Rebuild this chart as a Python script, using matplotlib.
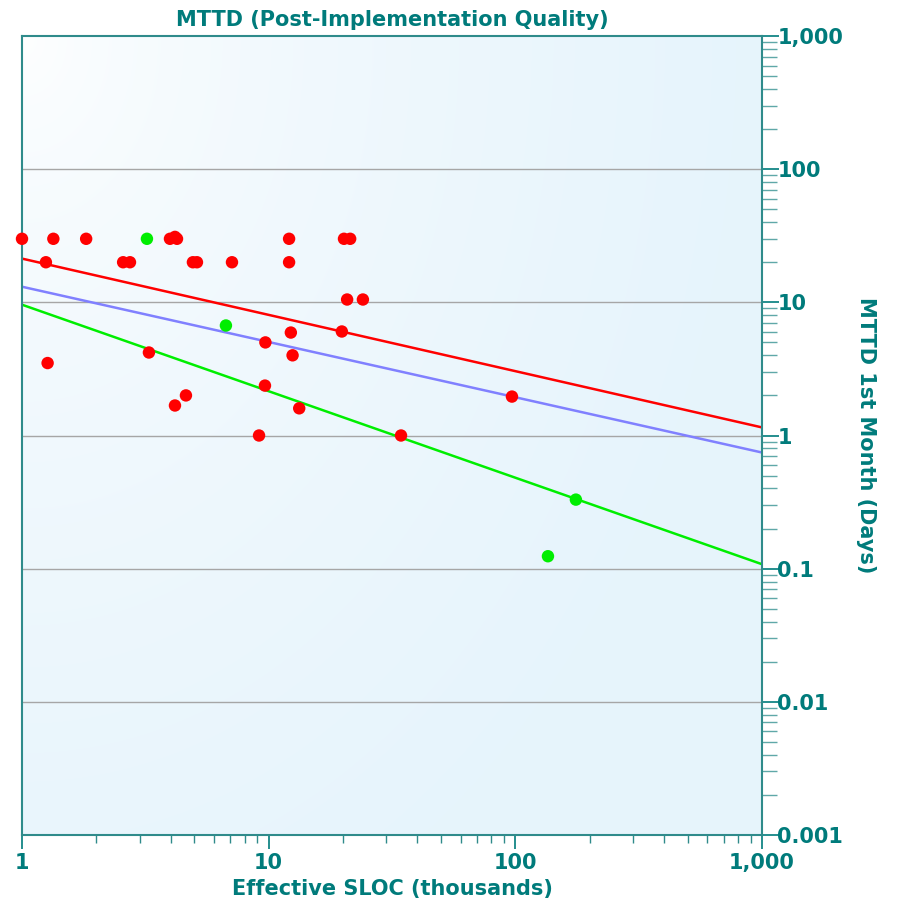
import matplotlib
matplotlib.use("Agg")
import matplotlib.pyplot as plt
import numpy as np
from matplotlib.ticker import FixedLocator, FuncFormatter, LogLocator, NullFormatter

# project size (thousands of effective SLOC) vs MTTD in the first month (days)
red_sloc = [1.0, 1.25, 1.27, 1.34, 1.82, 2.57, 2.74, 3.27, 3.98, 4.17, 4.25,
            4.17, 4.62, 4.93, 5.12, 7.1, 9.14, 9.66, 9.7, 12.1, 12.1, 12.3,
            12.5, 13.3, 19.8, 20.2, 20.8, 21.4, 24.1, 34.4, 96.9]
red_mttd = [30, 20, 3.5, 30, 30, 20, 20, 4.2, 30, 31, 30,
            1.68, 2.0, 20, 20, 20, 1.0, 2.37, 5.0, 30, 20, 5.93,
            4.0, 1.6, 6.04, 30, 10.5, 30, 10.5, 1.0, 1.96]

green_sloc = [3.21, 6.71, 135.6, 176]
green_mttd = [30, 6.7, 0.124, 0.33]

# power-law trend lines, evaluated at the ends of the x range
trend_sloc = [1, 1000]
trend_red = [21.3, 1.15]
trend_all = [13.1, 0.745]
trend_green = [9.6, 0.108]

x_ticks = [1, 10, 100, 1000]
y_ticks = [0.001, 0.01, 0.1, 1, 10, 100, 1000]

teal = "#007b7b"
spine_teal = "#2f8b8b"

fig = plt.figure(figsize=(8.99, 9.0), dpi=100)
ax = fig.add_axes([22 / 899, 1 - 835 / 900, 740 / 899, 799 / 900])

# soft background: white in the top-left corner fading to pale blue
gx, gy = np.meshgrid(np.linspace(0, 1, 200), np.linspace(0, 1, 200))
t = np.clip(np.sqrt((gx * 1.0) ** 2 + (gy * 0.8) ** 2), 0, 1) ** 0.6
c0 = np.array([1.0, 1.0, 1.0])
c1 = np.array([0.902, 0.957, 0.988])
grad = c0 + (c1 - c0) * t[..., None]
# row 0 of the image is the top edge of the axes
ax.imshow(grad, extent=[0, 1, 0, 1], transform=ax.transAxes,
          aspect="auto", zorder=0, interpolation="bilinear")

ax.set_xscale("log")
ax.set_yscale("log")
ax.set_xlim(1, 1000)
ax.set_ylim(0.001, 1000)

for yv in y_ticks[1:-1]:
    ax.axhline(yv, color="#a6a6a6", lw=1.0, zorder=1)

ax.plot(trend_sloc, trend_red, color="#ff0000", lw=1.8, zorder=2)
ax.plot(trend_sloc, trend_all, color="#8080ff", lw=1.8, zorder=2)
ax.plot(trend_sloc, trend_green, color="#00ee00", lw=1.8, zorder=2)

ax.scatter(red_sloc, red_mttd, s=80, color="#ff0000", edgecolors="none",
           zorder=3, clip_on=False)
ax.scatter(green_sloc, green_mttd, s=80, color="#00ee00", edgecolors="none",
           zorder=3, clip_on=False)

def comma_fmt(v, pos):
    if v >= 1:
        return f"{int(round(v)):,}"
    return f"{v:g}"

ax.yaxis.tick_right()
ax.yaxis.set_label_position("right")
ax.xaxis.set_major_locator(FixedLocator(x_ticks))
ax.yaxis.set_major_locator(FixedLocator(y_ticks))
ax.xaxis.set_major_formatter(FuncFormatter(comma_fmt))
ax.yaxis.set_major_formatter(FuncFormatter(comma_fmt))
ax.xaxis.set_minor_locator(LogLocator(base=10, subs=np.arange(2, 10)))
ax.yaxis.set_minor_locator(LogLocator(base=10, subs=np.arange(2, 10)))
ax.xaxis.set_minor_formatter(NullFormatter())
ax.yaxis.set_minor_formatter(NullFormatter())

ax.tick_params(axis="x", which="major", length=10, width=1.2, color=teal,
               labelsize=15, labelcolor=teal, pad=3)
ax.tick_params(axis="x", which="minor", length=6, width=1.0, color=spine_teal)
ax.tick_params(axis="y", which="major", length=12, width=1.2, color=teal,
               labelsize=15, labelcolor=teal, pad=-1)
ax.tick_params(axis="y", which="minor", length=11, width=1.0, color="#5fa8a8")
for lbl in ax.get_xticklabels() + ax.get_yticklabels():
    lbl.set_fontweight("bold")

for sp in ax.spines.values():
    sp.set_color(spine_teal)
    sp.set_linewidth(1.5)

ax.set_title("MTTD (Post-Implementation Quality)", color=teal,
             fontsize=15, fontweight="bold", pad=7)
ax.set_xlabel("Effective SLOC (thousands)", color=teal, fontsize=15,
              fontweight="bold", labelpad=4)
ax.set_ylabel("MTTD 1st Month (Days)", color=teal, fontsize=15,
              fontweight="bold", rotation=270, labelpad=24)

fig.savefig("out.png", dpi=100)
